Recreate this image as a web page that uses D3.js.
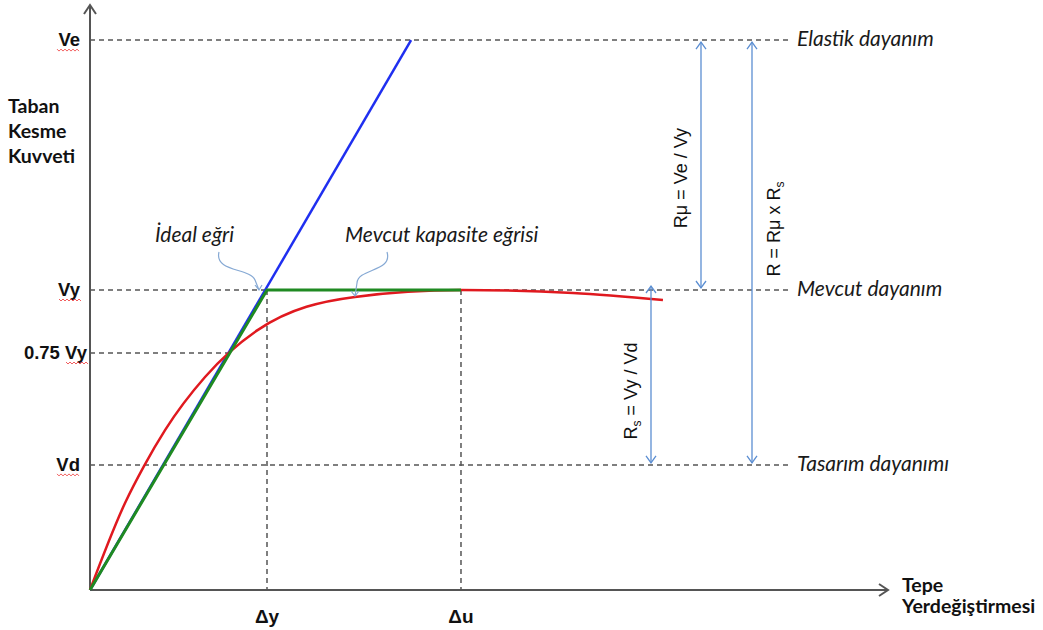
<!DOCTYPE html>
<html>
<head>
<meta charset="utf-8">
<script src="https://cdn.jsdelivr.net/npm/d3@7"></script>
<style>
  body { margin: 0; background: #fff; }
  svg { display: block; }
</style>
</head>
<body>
<svg id="chart" width="1043" height="630"></svg>
<script>
// levels (Vy = 1, Δy = 1)
var levelNames = ['Ve', 'Vy', '0.75 Vy', 'Vd'];
var levelValues = [1.833, 1, 0.79, 0.417];
var levelDashEnd = [3.96, 3.96, 0.774, 3.96];
var rightLabels = ['Elastik dayanım', 'Mevcut dayanım', 'Tasarım dayanımı'];
var rightLabelValues = [1.833, 1, 0.417];

var dispNames = ['Δy', 'Δu'];
var dispValues = [1, 2.096];

// curves
var elasticX = [0, 1.814];
var elasticY = [0, 1.833];
var idealX = [0, 1, 2.096];
var idealY = [0, 1, 1];
var capX = [0, 0.198, 0.305, 0.424, 0.65, 0.949, 1.497, 2.096, 2.729, 3.237];
var capY = [0, 0.29, 0.413, 0.533, 0.71, 0.867, 0.977, 1.0, 0.99, 0.967];

var svg = d3.select('#chart');
var x = d3.scaleLinear().domain([0, 1]).range([90, 267]);
var y = d3.scaleLinear().domain([0, 1]).range([590, 290]);

var gray = '#555';
var arrowBlue = '#5b8ed2';

// dashed guides
levelValues.forEach(function(v, i){
  svg.append('line')
    .attr('x1', x(0)).attr('x2', x(levelDashEnd[i]))
    .attr('y1', y(v)).attr('y2', y(v))
    .attr('stroke', gray).attr('stroke-width', 1.5)
    .attr('stroke-dasharray', '5,4');
});
dispValues.forEach(function(v){
  svg.append('line')
    .attr('x1', x(v)).attr('x2', x(v))
    .attr('y1', y(1)).attr('y2', y(0))
    .attr('stroke', gray).attr('stroke-width', 1.5)
    .attr('stroke-dasharray', '5,4');
});

// axes
svg.append('line')
  .attr('x1', x(0)).attr('y1', y(0)).attr('x2', x(0)).attr('y2', 5)
  .attr('stroke', gray).attr('stroke-width', 2);
svg.append('path')
  .attr('d', 'M' + (x(0) - 6) + ',14 L' + x(0) + ',5 L' + (x(0) + 6) + ',14')
  .attr('fill', 'none').attr('stroke', gray).attr('stroke-width', 2);
svg.append('line')
  .attr('x1', x(0)).attr('y1', y(0)).attr('x2', 888).attr('y2', y(0))
  .attr('stroke', gray).attr('stroke-width', 2);
svg.append('path')
  .attr('d', 'M879,' + (y(0) - 6) + ' L888,' + y(0) + ' L879,' + (y(0) + 6))
  .attr('fill', 'none').attr('stroke', gray).attr('stroke-width', 2);

// lines
var line = d3.line()
  .x(function(d){ return x(d[0]); })
  .y(function(d){ return y(d[1]); });

svg.append('path')
  .datum(d3.zip(elasticX, elasticY))
  .attr('d', line)
  .attr('fill', 'none').attr('stroke', '#1f2ff0').attr('stroke-width', 2.5);

svg.append('path')
  .datum(d3.zip(capX, capY))
  .attr('d', line.curve(d3.curveMonotoneX))
  .attr('fill', 'none').attr('stroke', '#e0191f').attr('stroke-width', 2.5);

line.curve(d3.curveLinear);
svg.append('path')
  .datum(d3.zip(idealX, idealY))
  .attr('d', line)
  .attr('fill', 'none').attr('stroke', '#1f8a22').attr('stroke-width', 3);

// double arrows
function dblArrow(xp, v1, v2){
  var y1 = y(v1) + 2, y2 = y(v2) - 2;
  svg.append('line')
    .attr('x1', xp).attr('x2', xp).attr('y1', y1).attr('y2', y2)
    .attr('stroke', arrowBlue).attr('stroke-width', 1.3);
  svg.append('path')
    .attr('d', 'M' + (xp - 5) + ',' + (y1 + 7) + ' L' + xp + ',' + y1 + ' L' + (xp + 5) + ',' + (y1 + 7))
    .attr('fill', 'none').attr('stroke', arrowBlue).attr('stroke-width', 1.3);
  svg.append('path')
    .attr('d', 'M' + (xp - 5) + ',' + (y2 - 7) + ' L' + xp + ',' + y2 + ' L' + (xp + 5) + ',' + (y2 - 7))
    .attr('fill', 'none').attr('stroke', arrowBlue).attr('stroke-width', 1.3);
}
dblArrow(701, 1.833, 1);
dblArrow(752, 1.833, 0.417);
dblArrow(651, 1.02, 0.417);

// rotated ratio labels
function rotLabel(cx, cy, parts){
  var t = svg.append('text')
    .attr('transform', 'translate(' + cx + ',' + cy + ') rotate(-90)')
    .attr('text-anchor', 'middle')
    .attr('font-family', 'Arial, "Liberation Sans", sans-serif')
    .attr('font-size', 18)
    .attr('fill', '#111');
  parts.forEach(function(p){
    var s = t.append('tspan').text(p[0]);
    if (p[1]) s.attr('font-size', 12).attr('dy', 4);
    else if (p[2]) s.attr('dy', -4);
  });
}
rotLabel(687, 178, [['Rμ = Ve / Vy']]);
rotLabel(780, 229, [['R = Rμ x R'], ['s', true]]);
rotLabel(637, 391, [['R'], ['s', true], [' = Vy / Vd', false, true]]);

// left level labels
svg.selectAll('.lvl')
  .data(levelNames)
  .enter().append('text')
  .attr('x', function(d){ return d === '0.75 Vy' ? 87 : 80; })
  .attr('y', function(d, i){ return y(levelValues[i]) + 6; })
  .attr('text-anchor', 'end')
  .attr('font-family', 'Arial, "Liberation Sans", sans-serif')
  .attr('font-weight', 'bold')
  .attr('font-size', 18.5)
  .attr('fill', '#111')
  .text(function(d){ return d; });

// spell check squiggles
function squiggle(x0, x1, yp){
  var d = 'M' + x0 + ',' + yp;
  for (var xx = x0 + 2, k = 0; xx <= x1; xx += 2, k++) {
    d += ' L' + xx + ',' + (yp + (k % 2 ? 0 : 2));
  }
  svg.append('path').attr('d', d).attr('fill', 'none')
    .attr('stroke', '#e33').attr('stroke-width', 0.8);
}
squiggle(57, 79, y(1.833) + 9);
squiggle(59, 81, y(1) + 9);
squiggle(66, 88, y(0.79) + 9);
squiggle(57, 79, y(0.417) + 9);

// right labels
svg.selectAll('.rl')
  .data(rightLabels)
  .enter().append('text')
  .attr('x', 797)
  .attr('y', function(d, i){ return y(rightLabelValues[i]) + 6; })
  .attr('font-family', 'Lato, "Open Sans", sans-serif')
  .attr('font-style', 'italic')
  .attr('font-size', 21)
  .attr('fill', '#1a1a1a')
  .text(function(d){ return d; });

// x labels
svg.selectAll('.dl')
  .data(dispNames)
  .enter().append('text')
  .attr('x', function(d, i){ return x(dispValues[i]); })
  .attr('y', 623)
  .attr('text-anchor', 'middle')
  .attr('font-family', 'Arial, "Liberation Sans", sans-serif')
  .attr('font-weight', 'bold')
  .attr('font-size', 19)
  .attr('fill', '#111')
  .text(function(d){ return d; });

// axis titles
var yTitle = svg.append('text')
  .attr('font-family', 'Lato, "Open Sans", sans-serif')
  .attr('font-weight', 'bold')
  .attr('font-size', 19.5)
  .attr('fill', '#111');
['Taban', 'Kesme', 'Kuvveti'].forEach(function(s, i){
  yTitle.append('tspan').attr('x', 8).attr('y', 113 + i * 25).text(s);
});
var xTitle = svg.append('text')
  .attr('font-family', 'Lato, "Open Sans", sans-serif')
  .attr('font-weight', 'bold')
  .attr('font-size', 19.5)
  .attr('fill', '#111');
['Tepe', 'Yerdeğiştirmesi'].forEach(function(s, i){
  xTitle.append('tspan').attr('x', 902).attr('y', 592 + i * 21).text(s);
});

// callouts
svg.append('text')
  .attr('x', 155).attr('y', 242)
  .attr('font-family', 'Lato, "Open Sans", sans-serif')
  .attr('font-style', 'italic')
  .attr('font-size', 21)
  .attr('fill', '#1a1a1a')
  .text('İdeal eğri');
svg.append('text')
  .attr('x', 345).attr('y', 242)
  .attr('font-family', 'Lato, "Open Sans", sans-serif')
  .attr('font-style', 'italic')
  .attr('font-size', 21)
  .attr('fill', '#1a1a1a')
  .text('Mevcut kapasite eğrisi');

svg.append('path')
  .attr('d', 'M219,252 C214,272 250,268 255,280 L259,290 M255,285 L259,290 L262,285')
  .attr('fill', 'none').attr('stroke', '#86a9d4').attr('stroke-width', 1.2);
svg.append('path')
  .attr('d', 'M387,252 C393,272 358,268 357,283 L355,296 M351,291 L355,296 L359,291')
  .attr('fill', 'none').attr('stroke', '#86a9d4').attr('stroke-width', 1.2);
</script>
</body>
</html>
